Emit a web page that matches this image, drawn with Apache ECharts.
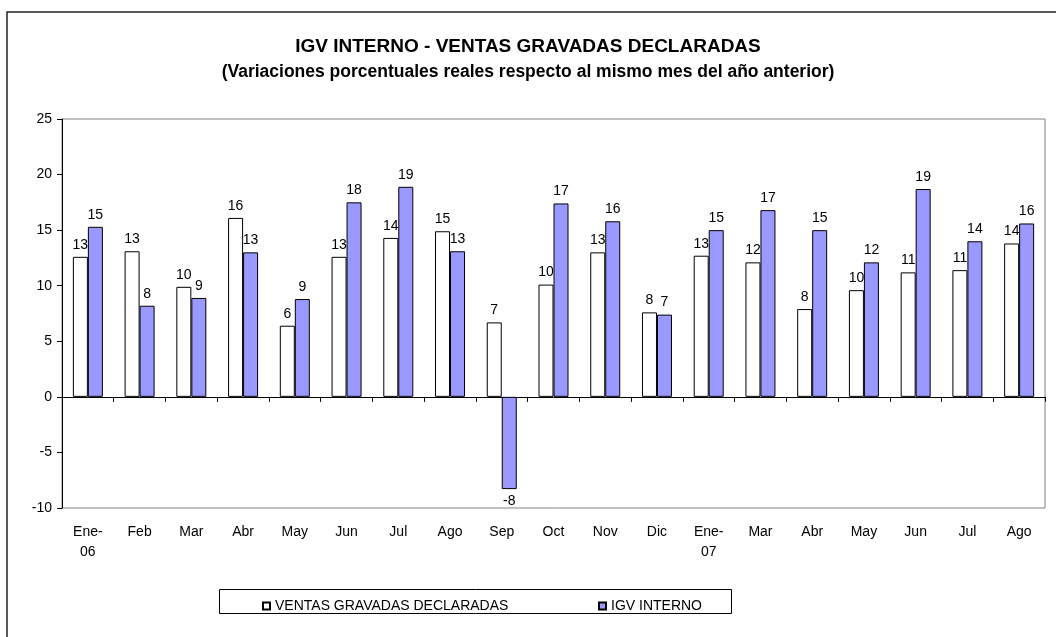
<!DOCTYPE html>
<html>
<head>
<meta charset="utf-8">
<script src="https://cdn.jsdelivr.net/npm/echarts@6/dist/echarts.min.js"></script>
<style>
    html, body { margin: 0; padding: 0; background: #fff; }
    #chart { width: 1056px; height: 637px; }
</style>
</head>
<body>
<div id="chart"></div>
<script>
// meses (Ene-06 .. Ago-07, sin Feb-07)
const categories = ['Ene-\n06', 'Feb', 'Mar', 'Abr', 'May', 'Jun', 'Jul', 'Ago', 'Sep', 'Oct',
    'Nov', 'Dic', 'Ene-\n07', 'Mar', 'Abr', 'May', 'Jun', 'Jul', 'Ago'];
const ventas = [12.6, 13.1, 9.9, 16.1, 6.4, 12.6, 14.3, 14.9, 6.7, 10.1,
    13.0, 7.6, 12.7, 12.1, 7.9, 9.6, 11.2, 11.4, 13.8];
const igv = [15.3, 8.2, 8.9, 13.0, 8.8, 17.5, 18.9, 13.1, -8.3, 17.4,
    15.8, 7.4, 15.0, 16.8, 15.0, 12.1, 18.7, 14.0, 15.6];
const yTicks = { min: -10, max: 25, interval: 5 };

const font = "'Liberation Sans', Arial, sans-serif";

// etiqueta arriba, o abajo si el valor es negativo
function withLabels(values) {
    return values.map(function (v) {
        return v < 0 ? { value: v, label: { position: 'bottom' } } : v;
    });
}

const labelStyle = {
    show: true,
    position: 'top',
    distance: 5,
    color: '#000',
    fontSize: 14,
    fontFamily: font,
    formatter: function (p) { return Math.round(p.value); }
};

const chart = echarts.init(document.getElementById('chart'));
const option = {
    animation: false,
    textStyle: { fontFamily: font },
    title: [
        {
            text: 'IGV INTERNO - VENTAS GRAVADAS DECLARADAS',
            left: 'center',
            top: 32,
            textStyle: { fontSize: 19, fontWeight: 'bold', color: '#000', fontFamily: font }
        },
        {
            text: '(Variaciones porcentuales reales respecto al mismo mes del año anterior)',
            left: 'center',
            top: 58,
            textStyle: { fontSize: 17.5, fontWeight: 'bold', color: '#000', fontFamily: font }
        }
    ],
    legend: [
        {
            data: ['VENTAS GRAVADAS DECLARADAS'],
            left: 257,
            top: 594,
            icon: 'rect',
            itemWidth: 7,
            itemHeight: 7,
            textStyle: { fontSize: 14, color: '#000', fontFamily: font }
        },
        {
            data: ['IGV INTERNO'],
            left: 593,
            top: 594,
            icon: 'rect',
            itemWidth: 7,
            itemHeight: 7,
            textStyle: { fontSize: 14, color: '#000', fontFamily: font }
        }
    ],
    grid: {
        left: 62,
        right: 11,
        top: 119,
        bottom: 129,
        show: true,
        borderColor: '#808080',
        borderWidth: 1,
        backgroundColor: 'transparent'
    },
    xAxis: [
        {
            type: 'category',
            data: categories,
            axisLine: { onZero: true, lineStyle: { color: '#000', width: 1 } },
            axisTick: { show: true, inside: false, length: 5, lineStyle: { color: '#000' } },
            axisLabel: { show: false }
        },
        {
            type: 'category',
            data: categories,
            position: 'bottom',
            axisLine: { show: false, onZero: false },
            axisTick: { show: false },
            axisLabel: {
                show: true,
                interval: 0,
                margin: 14,
                fontSize: 14,
                lineHeight: 20,
                color: '#000',
                fontFamily: font
            }
        }
    ],
    yAxis: {
        type: 'value',
        min: yTicks.min,
        max: yTicks.max,
        interval: yTicks.interval,
        splitLine: { show: false },
        axisLine: { show: true, lineStyle: { color: '#000', width: 1 } },
        axisTick: { show: true, length: 5, lineStyle: { color: '#000' } },
        axisLabel: { margin: 10, fontSize: 14, color: '#000', fontFamily: font }
    },
    series: [
        {
            name: 'VENTAS GRAVADAS DECLARADAS',
            type: 'bar',
            xAxisIndex: 0,
            barWidth: 15,
            barGap: '0%',
            data: withLabels(ventas),
            itemStyle: { color: '#ffffff', borderColor: '#000', borderWidth: 1 },
            label: labelStyle
        },
        {
            name: 'IGV INTERNO',
            type: 'bar',
            xAxisIndex: 0,
            barWidth: 15,
            barGap: '0%',
            data: withLabels(igv),
            itemStyle: { color: '#9999ff', borderColor: '#000', borderWidth: 1 },
            label: labelStyle
        }
    ],
    graphic: [
        {
            type: 'rect',
            shape: { x: 7, y: 12, width: 1100, height: 700 },
            style: { fill: 'none', stroke: '#222', lineWidth: 1.5 },
            silent: true
        },
        {
            type: 'rect',
            shape: { x: 219.5, y: 589.5, width: 512, height: 24 },
            style: { fill: 'none', stroke: '#000', lineWidth: 1 },
            silent: true
        }
    ]
};
chart.setOption(option);
</script>
</body>
</html>
